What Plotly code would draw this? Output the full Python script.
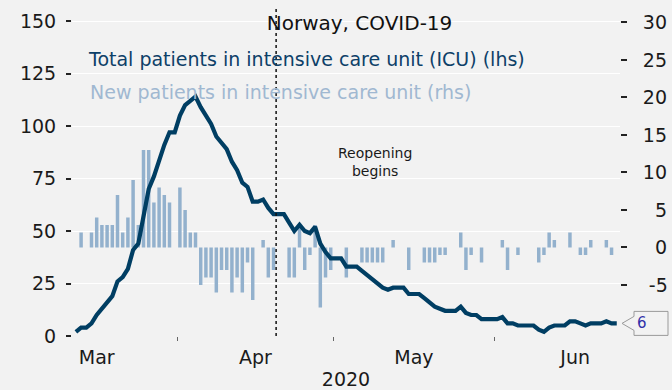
import pandas as pd
import plotly.graph_objects as go

# Norway, COVID-19: daily ICU figures from 12 March 2020
start_date = "2020-03-12"
reopening_date = "2020-04-20"

icu_total = [
    2, 4, 4, 6, 10, 13, 16, 19, 26, 28,
    32, 41, 44, 57, 70, 76, 84, 91, 97, 97,
    105, 110, 112, 114, 109, 105, 101, 95, 92, 89,
    83, 79, 73, 71, 64, 64, 65, 61, 58, 58,
    58, 54, 50, 53, 50, 49, 52, 44, 40, 37,
    37, 37, 33, 33, 33, 31, 29, 27, 25, 23,
    22, 23, 23, 23, 20, 20, 20, 18, 16, 14,
    13, 12, 12, 12, 14, 11, 10, 10, 8, 8,
    8, 8, 9, 6, 6, 5, 5, 5, 5, 3,
    2, 4, 5, 5, 5, 7, 7, 6, 5, 6,
    6, 6, 7, 6, 6,
]

icu_new = [
    0, 2, 0, 2, 4, 3, 3, 3, 7, 2,
    4, 9, 3, 13, 13, 6, 8, 7, 6, 0,
    8, 5, 2, 2, -5, -4, -4, -6, -3, -3,
    -6, -4, -6, -2, -7, 0, 1, -4, -3, 0,
    0, -4, -4, 3, -3, -1, 3, -8, -4, -3,
    0, 0, -4, 0, 0, -2, -2, -2, -2, -2,
    0, 1, 0, 0, -3, 0, 0, -2, -2, -2,
    -1, -1, 0, 0, 2, -3, -1, 0, -2, 0,
    0, 0, 1, -3, 0, -1, 0, 0, 0, -2,
    -1, 2, 1, 0, 0, 2, 0, -1, -1, 1,
    0, 0, 1, -1, 0,
]

left_ticks = [0, 25, 50, 75, 100, 125, 150]
right_ticks = [-5, 0, 5, 10, 15, 20, 25, 30]

total_label = "Total patients in intensive care unit (ICU) (lhs)"
new_label = "New patients in intensive care unit (rhs)"
title_text = "Norway, COVID-19"
event_text = "Reopening<br>begins"
year_text = "2020"

dates = pd.date_range(start_date, periods=len(icu_total), freq="D")

BG = "#f2f2f2"
NAVY = "#003e63"
NAVY_TEXT = "#0d4068"
STEEL = "#93b1cd"
STEEL_TEXT = "#a0b8d1"
INK = "#1a1a1a"
FONT = "DejaVu Sans"
DAY_MS = 86400000


def right_label(v):
    # right-align the rhs labels with figure spaces
    s = str(v)
    if v < 0:
        return "\u2008" + s
    return s.rjust(2).replace(" ", "\u2007")


fig = go.Figure()

fig.add_trace(go.Bar(
    x=dates, y=icu_new, name=new_label,
    xperiod=DAY_MS, xperiodalignment="middle",
    marker=dict(color=STEEL, line=dict(width=0)),
    yaxis="y", hoverinfo="x+y",
))

fig.add_trace(go.Scatter(
    x=dates, y=icu_total, name=total_label, mode="lines",
    xperiod=DAY_MS, xperiodalignment="middle",
    line=dict(color=NAVY, width=4.2),
    yaxis="y2", hoverinfo="x+y",
))

last_value = icu_total[-1]

fig.update_layout(
    width=672, height=390,
    margin=dict(l=72, r=52, t=8, b=54, autoexpand=False),
    paper_bgcolor=BG, plot_bgcolor=BG,
    font=dict(family=FONT, color=INK, size=19),
    showlegend=False,
    bargap=0.33,
    title=dict(
        text=title_text, x=0.535, y=0.94, xanchor="center", yanchor="middle",
        font=dict(family=FONT, size=20, color="#111111"),
        automargin=False,
    ),
    xaxis=dict(
        type="date", automargin=False,
        range=["2020-03-11 18:00", "2020-06-25 03:00"],
        tick0="2020-03-01", dtick="M1", tickformat="%b",
        ticklabelmode="period",
        ticks="outside", ticklen=4, tickwidth=1, tickcolor="#666666",
        tickfont=dict(size=19, color=INK),
        showgrid=False, zeroline=False, showline=False,
        title=dict(text=year_text, standoff=6, font=dict(size=19, color=INK)),
    ),
    yaxis=dict(
        side="right", automargin=False,
        range=[-11.8, 31.93],
        tickmode="array", tickvals=right_ticks,
        ticktext=[right_label(v) for v in right_ticks],
        ticks="outside", ticklen=6, tickwidth=1.5, tickcolor="#222222",
        ticklabelstandoff=12,
        tickfont=dict(size=19, color=INK),
        showgrid=False, zeroline=False, showline=False,
    ),
    yaxis2=dict(
        overlaying="y", side="left", automargin=False,
        range=[0, 156.2],
        tickmode="array", tickvals=left_ticks,
        ticks="outside", ticklen=5, tickwidth=1.5, tickcolor="#222222",
        ticklabelstandoff=6,
        tickfont=dict(size=19, color=INK),
        showgrid=True, gridcolor="#ffffff", gridwidth=1.3,
        zeroline=False, showline=False,
    ),
)

# reopening marker
fig.add_shape(
    type="line", xref="x", yref="paper",
    x0=reopening_date, x1=reopening_date, y0=0, y1=1,
    line=dict(color="#111111", width=1.5, dash="3px,3px"),
    layer="above",
)
fig.add_annotation(
    xref="x", yref="y2", x="2020-05-09", y=83,
    text=event_text, showarrow=False,
    font=dict(size=14, color=INK), align="center",
)

# series labels
fig.add_annotation(
    xref="paper", yref="paper", x=0.026, y=0.843, xanchor="left", yanchor="middle",
    text=total_label, showarrow=False, font=dict(size=19, color=NAVY_TEXT),
)
fig.add_annotation(
    xref="paper", yref="paper", x=0.03, y=0.743, xanchor="left", yanchor="middle",
    text=new_label, showarrow=False, font=dict(size=19, color=STEEL_TEXT),
)

# latest-value callout on the right edge
fig.add_shape(
    type="path", xref="paper", yref="y2",
    xsizemode="pixel", ysizemode="pixel", xanchor=1, yanchor=last_value,
    path="M2,0 L14,7 L14,12 L48,12 L48,-12 L14,-12 L14,-7 Z",
    line=dict(color="#9a9a9a", width=1), fillcolor=BG, layer="above",
)
fig.add_annotation(
    xref="paper", yref="y2", x=1, y=last_value, xanchor="left", yanchor="middle",
    xshift=15, text=str(last_value), showarrow=False,
    font=dict(size=15, color="#3030a8"),
)

fig.write_html("out.html")
